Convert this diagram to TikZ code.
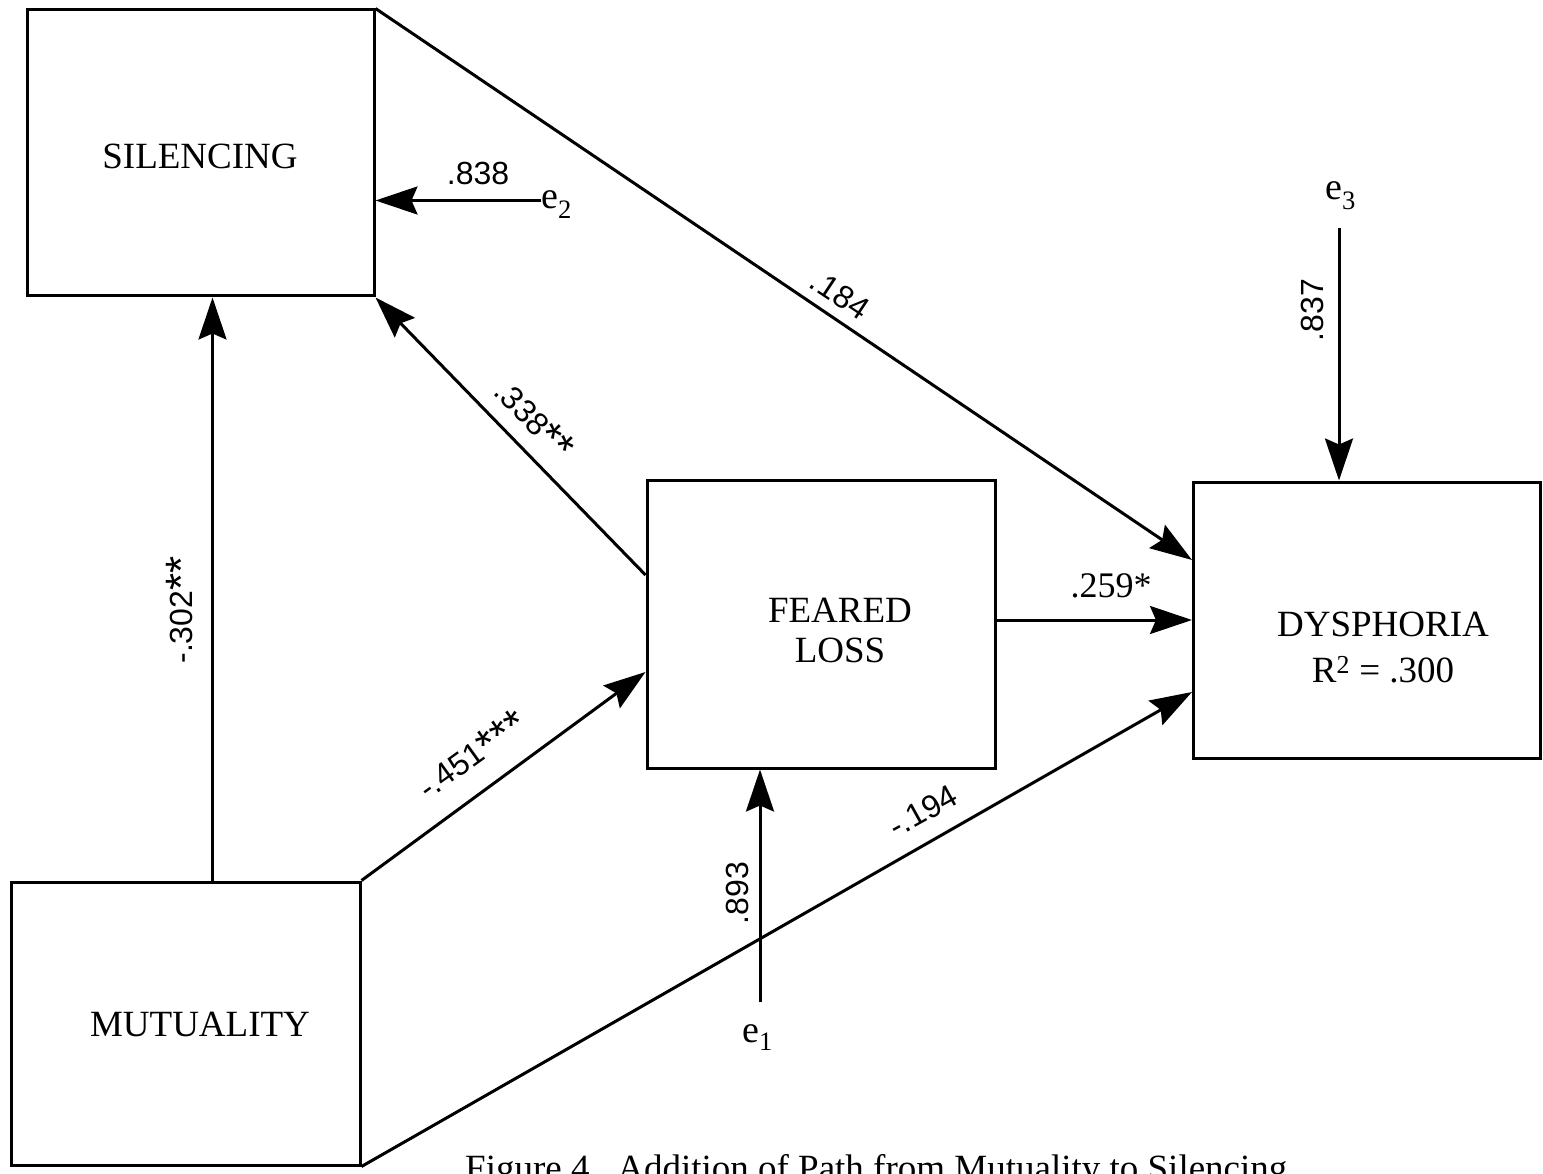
\documentclass[tikz,border=0pt]{standalone}
\usepackage{fontspec}
\setmainfont{Liberation Serif}
\newfontfamily\labfont{Liberation Sans}
\usetikzlibrary{arrows.meta,calc}
\newcommand\bigstar{\raisebox{-4pt}{\fontsize{44}{44}\selectfont *}}
\begin{document}
\begin{tikzpicture}[x=1pt,y=-1pt,
  box/.style={draw, line width=3pt, inner sep=0pt},
  arr/.style={line width=3pt, -{Stealth[length=42pt,width=28pt,inset=6pt]}},
  lab/.style={font=\labfont\fontsize{32}{36}\selectfont, inner sep=0pt},
  txt/.style={font=\fontsize{37}{40}\selectfont, align=center, inner sep=0pt},
  etxt/.style={font=\fontsize{38}{40}\selectfont, anchor=base west, inner sep=0pt}]
\useasboundingbox (0,0) rectangle (1543,1174);
\clip (0,0) rectangle (1543,1174);
% boxes
\node[box, minimum width=347pt, minimum height=286pt] (sil) at (200.5,153) {};
\node[box, minimum width=348pt, minimum height=288pt] (fear) at (821,624) {};
\node[box, minimum width=347pt, minimum height=276pt] (dys) at (1367,620) {};
\node[box, minimum width=349pt, minimum height=283pt] (mut) at (185.5,1023.5) {};
% box texts
\node[txt] (silT) at (200,156) {SILENCING};
\node[txt] (fearT) at (840,630) {FEARED\\LOSS};
\node[txt] (dysT) at (1383,648) {DYSPHORIA\\[6pt]R\textsuperscript{2} = .300};
\node[txt] (mutT) at (200,1024) {MUTUALITY};
% error terms
\node[etxt] (e1) at (742,1042) {e\textsubscript{1}};
\node[etxt] (e2) at (541,209) {e\textsubscript{2}};
\node[etxt] (e3) at (1325,200) {e\textsubscript{3}};
% connectors
\coordinate (ms) at ([xshift=27pt]mut.north);
\draw[arr] (ms) -- (ms |- sil.south);
\draw[arr] (mut.north east) -- ([yshift=-48pt]fear.west);
\draw[arr] (mut.south east) -- ([yshift=-72pt]dys.west);
\draw[arr] ([yshift=49pt]fear.west) -- (sil.south east);
\draw[arr] (sil.north east) -- ([yshift=60pt]dys.west);
\draw[arr] (fear.east |- dys.west) -- (dys.west);
\coordinate (e2s) at ([yshift=8.5pt]e2.base west);
\draw[arr] (e2s) -- (e2s -| sil.east);
\coordinate (e3s) at ([xshift=14pt,yshift=-28pt]e3.base west);
\draw[arr] (e3s) -- (e3s |- dys.north);
\coordinate (e1s) at ([xshift=18pt,yshift=40pt]e1.base west);
\draw[arr] (e1s) -- (e1s |- fear.south);
% path labels
\node[lab, rotate=90] (l302) at (181,610) {-.302\bigstar\bigstar};
\node[lab, rotate=35.7] (l451) at (472,755) {-.451\bigstar\bigstar\bigstar};
\node[lab, rotate=29] (l194) at (923,811) {-.194};
\node[lab, rotate=-46] (l338) at (534,420) {.338\bigstar\bigstar};
\node[lab, rotate=-33.6] (l184) at (840,295) {.184};
\node[txt, font=\fontsize{36}{40}\selectfont] (l259) at (1111,586) {.259*};
\node[lab] (l838) at (478,173) {.838};
\node[lab, rotate=90] (l893) at (737,893) {.893};
\node[lab, rotate=90] (l837) at (1312,310) {.837};
% caption
\node[font=\fontsize{37}{44}\selectfont, anchor=base west, inner sep=0pt] (cap) at (465,1180) {Figure 4.\hspace{0.5em}Addition of Path from Mutuality to Silencing.};
\end{tikzpicture}
\end{document}
